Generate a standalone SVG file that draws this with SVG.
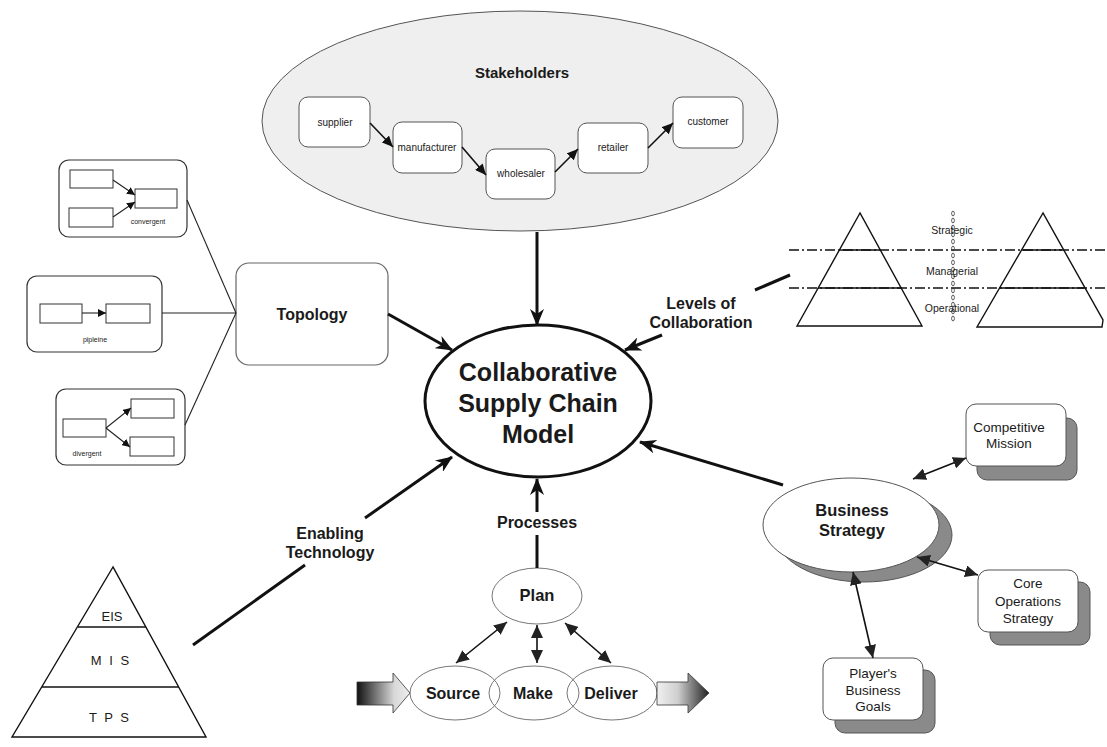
<svg xmlns="http://www.w3.org/2000/svg" width="1107" height="747" viewBox="0 0 1107 747">
  <defs>
    <style>
      text { font-family: "Liberation Sans", Arial, sans-serif; fill: #1a1a1a; text-anchor: middle; }
      .b { font-weight: bold; }
      .thick { stroke: #111; stroke-width: 3; fill: none; }
      .mid { stroke: #111; stroke-width: 1.6; fill: none; }
      .thin { stroke: #222; stroke-width: 1.1; fill: none; }
      .card { fill: #fff; stroke: #555; stroke-width: 1; }
      .shadow { fill: #8a8a8a; stroke: #555; stroke-width: 1; }
      .topo { fill: #fff; stroke: #333; stroke-width: 1.2; }
      .mini { fill: #fff; stroke: #333; stroke-width: 1; }
      .proc { fill: none; stroke: #777; stroke-width: 1; }
      .pyr { fill: #fff; stroke: #111; stroke-width: 1.4; }
      .dashdot { stroke: #111; stroke-width: 1.3; stroke-dasharray: 10 3 2 3; fill: none; }
    </style>
    <marker id="headBig" markerUnits="userSpaceOnUse" markerWidth="18" markerHeight="14" refX="16" refY="7" orient="auto">
      <path d="M0,0 L17,7 L0,14 L5,7 z" fill="#111"/>
    </marker>
    <marker id="headSm" markerUnits="userSpaceOnUse" markerWidth="12" markerHeight="10" refX="11" refY="5" orient="auto">
      <path d="M0,0 L11,5 L0,10 z" fill="#111"/>
    </marker>
    <marker id="headMid" markerUnits="userSpaceOnUse" markerWidth="14" markerHeight="12" refX="13" refY="6" orient="auto-start-reverse">
      <path d="M0,0 L13,6 L0,12 z" fill="#222"/>
    </marker>
    <marker id="headTiny" markerUnits="userSpaceOnUse" markerWidth="9" markerHeight="8" refX="8" refY="4" orient="auto">
      <path d="M0,0 L8,4 L0,8 z" fill="#111"/>
    </marker>
    <linearGradient id="inFlow" x1="0" y1="0" x2="1" y2="0">
      <stop offset="0" stop-color="#111"/>
      <stop offset="0.7" stop-color="#d8d8d8"/>
      <stop offset="1" stop-color="#eee"/>
    </linearGradient>
    <linearGradient id="outFlow" x1="0" y1="0" x2="1" y2="0">
      <stop offset="0" stop-color="#f0f0f0"/>
      <stop offset="0.4" stop-color="#cfcfcf"/>
      <stop offset="1" stop-color="#222"/>
    </linearGradient>
    <pattern id="dotCol" x="950" y="210" width="6" height="7" patternUnits="userSpaceOnUse">
      <ellipse cx="3" cy="3.5" rx="1.4" ry="2.4" fill="none" stroke="#333" stroke-width="0.8"/>
    </pattern>
  </defs>

  <rect width="1107" height="747" fill="#fff"/>

  <!-- Stakeholders -->
  <g id="stakeholders">
    <ellipse cx="520" cy="121" rx="258" ry="110" fill="#efefef" stroke="#555" stroke-width="1"/>
    <text x="522" y="78" class="b" font-size="15">Stakeholders</text>
  </g>
  <g id="supplier">
    <rect x="299" y="97" width="71" height="50" rx="9" class="card"/>
    <text x="335" y="126" font-size="10">supplier</text>
  </g>
  <g id="manufacturer">
    <rect x="393" y="122" width="69" height="51" rx="9" class="card"/>
    <text x="427" y="151" font-size="10">manufacturer</text>
  </g>
  <g id="wholesaler">
    <rect x="486" y="149" width="69" height="50" rx="9" class="card"/>
    <text x="521" y="177" font-size="10">wholesaler</text>
  </g>
  <g id="retailer">
    <rect x="578" y="123" width="70" height="50" rx="9" class="card"/>
    <text x="613" y="151" font-size="10">retailer</text>
  </g>
  <g id="customer">
    <rect x="673" y="97" width="70" height="51" rx="9" class="card"/>
    <text x="708" y="125" font-size="10">customer</text>
  </g>

  <!-- Central model -->
  <g id="model">
    <ellipse cx="538" cy="401" rx="113" ry="76" fill="#fff" stroke="#111" stroke-width="3"/>
    <text x="538" y="381" class="b" font-size="25">Collaborative</text>
    <text x="538" y="412" class="b" font-size="25">Supply Chain</text>
    <text x="538" y="443" class="b" font-size="25">Model</text>
  </g>

  <!-- Topology -->
  <g id="topology">
    <rect x="236" y="263" width="152" height="102" rx="13" fill="#fff" stroke="#666" stroke-width="1.2"/>
    <text x="312" y="320" class="b" font-size="16">Topology</text>
  </g>
  <g id="convergent">
    <rect x="59" y="160" width="128" height="77" rx="10" class="topo"/>
    <rect x="70" y="170" width="43" height="18" class="mini"/>
    <rect x="69" y="208" width="44" height="19" class="mini"/>
    <rect x="135" y="189" width="42" height="19" class="mini"/>
    <line x1="113" y1="180" x2="135" y2="195" class="thin" marker-end="url(#headTiny)"/>
    <line x1="113" y1="217" x2="135" y2="202" class="thin" marker-end="url(#headTiny)"/>
    <text x="148" y="224" font-size="7">convergent</text>
  </g>
  <g id="pipeline">
    <rect x="27" y="276" width="135" height="76" rx="10" class="topo"/>
    <rect x="40" y="304" width="42" height="19" class="mini"/>
    <rect x="106" y="304" width="44" height="19" class="mini"/>
    <line x1="82" y1="313" x2="106" y2="313" class="thin" marker-end="url(#headTiny)"/>
    <text x="95" y="342" font-size="7">pipleine</text>
  </g>
  <g id="divergent">
    <rect x="56" y="389" width="129" height="76" rx="10" class="topo"/>
    <rect x="63" y="419" width="43" height="18" class="mini"/>
    <rect x="131" y="399" width="43" height="19" class="mini"/>
    <rect x="130" y="437" width="44" height="19" class="mini"/>
    <line x1="106" y1="428" x2="131" y2="408" class="thin" marker-end="url(#headTiny)"/>
    <line x1="106" y1="428" x2="130" y2="447" class="thin" marker-end="url(#headTiny)"/>
    <text x="87" y="456" font-size="7">divergent</text>
  </g>

  <!-- Levels of collaboration -->
  <g id="levels">
    <polygon points="860,213 797,326 922,326" class="pyr"/>
    <line x1="839" y1="250" x2="881" y2="250" stroke="#111" stroke-width="1.3"/>
    <line x1="818" y1="288" x2="902" y2="288" stroke="#111" stroke-width="1.3"/>
    <polygon points="1043,213 977,327 1102,327 1103,320" class="pyr"/>
    <line x1="1022" y1="250" x2="1062" y2="250" stroke="#111" stroke-width="1.3"/>
    <line x1="999" y1="288" x2="1084" y2="288" stroke="#111" stroke-width="1.3"/>
    <line x1="789" y1="250" x2="1105" y2="250" class="dashdot"/>
    <line x1="789" y1="288" x2="1105" y2="288" class="dashdot"/>
    <rect x="950" y="210" width="6" height="112" fill="url(#dotCol)"/>
    <text x="952" y="234" font-size="10.5">Strategic</text>
    <text x="952" y="275" font-size="10.5">Managerial</text>
    <text x="952" y="312" font-size="10.5">Operational</text>
  </g>

  <!-- Business strategy -->
  <g id="business-strategy">
    <ellipse cx="864" cy="535" rx="88" ry="47" class="shadow"/>
    <ellipse cx="851" cy="525" rx="88" ry="47" fill="#fff" stroke="#555" stroke-width="1"/>
    <text x="852" y="516" class="b" font-size="16.5">Business</text>
    <text x="852" y="536" class="b" font-size="16.5">Strategy</text>
  </g>
  <g id="competitive-mission">
    <rect x="977" y="418" width="100" height="62" rx="10" class="shadow"/>
    <rect x="966" y="404" width="100" height="62" rx="10" class="card"/>
    <text x="1009" y="432" font-size="13.5">Competitive</text>
    <text x="1009" y="448" font-size="13.5">Mission</text>
  </g>
  <g id="core-operations">
    <rect x="990" y="582" width="100" height="63" rx="10" class="shadow"/>
    <rect x="978" y="570" width="100" height="62" rx="10" class="card"/>
    <text x="1028" y="588" font-size="13.5">Core</text>
    <text x="1028" y="606" font-size="13.5">Operations</text>
    <text x="1028" y="623" font-size="13.5">Strategy</text>
  </g>
  <g id="players-goals">
    <rect x="835" y="670" width="100" height="63" rx="10" class="shadow"/>
    <rect x="823" y="658" width="100" height="62" rx="10" class="card"/>
    <text x="873" y="678" font-size="13.5">Player's</text>
    <text x="873" y="695" font-size="13.5">Business</text>
    <text x="873" y="711" font-size="13.5">Goals</text>
  </g>

  <!-- Processes -->
  <g id="plan">
    <ellipse cx="537" cy="596" rx="45" ry="28" class="proc" fill="#fff"/>
    <text x="537" y="601" class="b" font-size="16.5">Plan</text>
  </g>
  <g id="source">
    <ellipse cx="455" cy="693" rx="45" ry="27" class="proc"/>
    <text x="453" y="699" class="b" font-size="16">Source</text>
  </g>
  <g id="make">
    <ellipse cx="534" cy="693" rx="45" ry="27" class="proc"/>
    <text x="533" y="699" class="b" font-size="16">Make</text>
  </g>
  <g id="deliver">
    <ellipse cx="612" cy="693" rx="45" ry="27" class="proc"/>
    <text x="611" y="699" class="b" font-size="16">Deliver</text>
  </g>
  <g id="flow-in">
    <polygon points="357,682 393,682 393,673 410,693 393,713 393,705 357,705" fill="url(#inFlow)" stroke="#333" stroke-width="0.8"/>
  </g>
  <g id="flow-out">
    <polygon points="657,682 688,682 688,673 709,693 688,713 688,705 657,705" fill="url(#outFlow)" stroke="#333" stroke-width="0.8"/>
  </g>

  <!-- Enabling technology -->
  <g id="technology">
    <polygon points="113,567 12,737 206,737" class="pyr"/>
    <line x1="78" y1="627" x2="146" y2="627" stroke="#111" stroke-width="1.3"/>
    <line x1="42" y1="687" x2="179" y2="687" stroke="#111" stroke-width="1.3"/>
    <text x="112" y="621" font-size="13">EIS</text>
    <text x="111" y="665" font-size="13" letter-spacing="2">M I S</text>
    <text x="110" y="722" font-size="13" letter-spacing="2">T P S</text>
  </g>

  <!-- Connectors and their labels -->
  <g id="connectors">
    <!-- supply chain flow -->
    <line x1="370" y1="123" x2="393" y2="147" class="mid" marker-end="url(#headSm)"/>
    <line x1="462" y1="147" x2="486" y2="175" class="mid" marker-end="url(#headSm)"/>
    <line x1="555" y1="172" x2="578" y2="149" class="mid" marker-end="url(#headSm)"/>
    <line x1="648" y1="148" x2="673" y2="123" class="mid" marker-end="url(#headSm)"/>

    <!-- into the model -->
    <line x1="537" y1="232" x2="537" y2="325" class="thick" marker-end="url(#headBig)"/>
    <line x1="388" y1="314" x2="452" y2="350" class="thick" marker-end="url(#headBig)"/>
    <line x1="662" y1="335" x2="625" y2="350" class="thick" marker-end="url(#headBig)"/>
    <line x1="755" y1="290" x2="790" y2="275" class="thick"/>
    <line x1="783" y1="485" x2="640" y2="442" class="thick" marker-end="url(#headBig)"/>
    <line x1="365" y1="518" x2="452" y2="457" class="thick" marker-end="url(#headBig)"/>
    <line x1="193" y1="645" x2="305" y2="565" class="thick"/>
    <line x1="537" y1="512" x2="537" y2="479" class="thick" marker-end="url(#headBig)"/>
    <line x1="537" y1="535" x2="537" y2="568" class="thick"/>

    <!-- topology fan -->
    <line x1="236" y1="313" x2="187" y2="200" class="thin"/>
    <line x1="236" y1="313" x2="162" y2="313" class="thin"/>
    <line x1="236" y1="313" x2="185" y2="425" class="thin"/>

    <!-- business strategy links -->
    <line x1="913" y1="479" x2="966" y2="458" class="mid" marker-start="url(#headMid)" marker-end="url(#headMid)"/>
    <line x1="917" y1="557" x2="978" y2="575" class="mid" marker-start="url(#headMid)" marker-end="url(#headMid)"/>
    <line x1="853" y1="572" x2="873" y2="658" class="mid" marker-start="url(#headMid)" marker-end="url(#headMid)"/>

    <!-- plan links -->
    <line x1="456" y1="663" x2="507" y2="622" class="mid" marker-start="url(#headMid)" marker-end="url(#headMid)"/>
    <line x1="537" y1="663" x2="537" y2="625" class="mid" marker-start="url(#headMid)" marker-end="url(#headMid)"/>
    <line x1="611" y1="663" x2="565" y2="623" class="mid" marker-start="url(#headMid)" marker-end="url(#headMid)"/>

    <text x="701" y="309" class="b" font-size="16">Levels of</text>
    <text x="701" y="328" class="b" font-size="16">Collaboration</text>
    <text x="330" y="539" class="b" font-size="16">Enabling</text>
    <text x="330" y="558" class="b" font-size="16">Technology</text>
    <text x="537" y="528" class="b" font-size="16">Processes</text>
  </g>
</svg>
